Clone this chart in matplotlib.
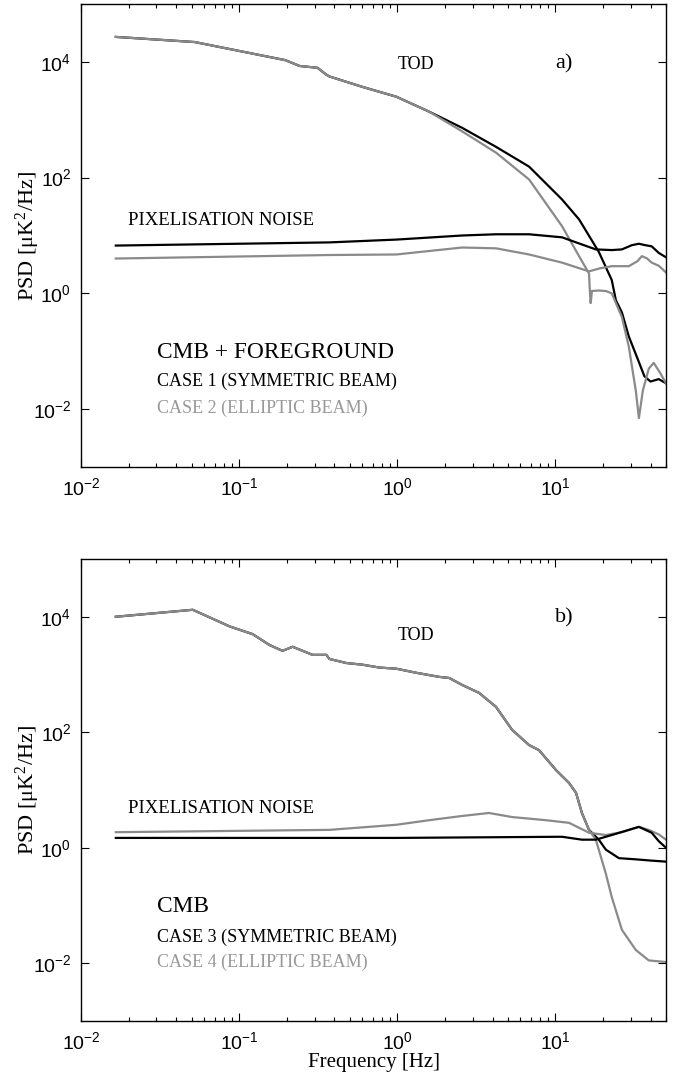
import numpy as np
import matplotlib
matplotlib.use("Agg")
import matplotlib.pyplot as plt
from matplotlib.ticker import NullLocator, LogLocator

plt.rcParams['font.family'] = ['Liberation Sans', 'DejaVu Sans']
plt.rcParams['mathtext.fontset'] = 'custom'
plt.rcParams['mathtext.rm'] = 'Liberation Sans'
plt.rcParams['mathtext.it'] = 'Liberation Sans:italic'

# === Panel a) CMB + foreground ===
# TOD, common part (both cases overlap at low frequency)
f_tod_a = [0.0166, 0.0524, 0.196, 0.241, 0.313, 0.356, 0.372, 0.601, 0.986, 1.59]
p_tod_a = [27000, 22000, 10700, 8500, 7900, 6000, 5600, 3700, 2500, 1380]

f_tod_a1 = [2.57, 4.21, 6.81, 11.0, 14.1, 18.8, 22.7, 24.1, 26.3, 29.1, 33.7, 36.5, 39.9, 45.0, 50.0]
p_tod_a1 = [725, 340, 155, 42, 19, 5.2, 1.7, 0.76, 0.47, 0.18, 0.065, 0.037, 0.030, 0.033, 0.028]

f_tod_a2 = [2.57, 4.21, 6.81, 11.0, 14.1, 16.3, 16.5, 16.7, 17.0, 18.8, 20.8, 22.7, 26.3, 29.1,
            32.2, 33.7, 35.7, 38.9, 41.8, 45.5, 50.0]
p_tod_a2 = [630, 270, 93, 14.5, 4.4, 2.2, 1.1, 0.68, 1.1, 1.12, 1.1, 1.0, 0.39, 0.12,
            0.021, 0.007, 0.021, 0.05, 0.063, 0.044, 0.028]

# pixelisation noise
f_pix_a1 = [0.0166, 0.372, 0.986, 2.57, 4.21, 6.81, 11.0, 14.7, 18.0, 22.7, 26.3, 30.4, 33.7, 37.0, 40.6, 45.0, 50.0]
p_pix_a1 = [6.7, 7.6, 8.5, 10.0, 10.5, 10.5, 9.3, 7.0, 5.75, 5.6, 5.75, 6.8, 7.2, 6.8, 6.5, 5.0, 4.2]

f_pix_a2 = [0.0166, 0.372, 0.986, 2.57, 4.21, 6.81, 11.0, 16.3, 19.0, 22.7, 29.1, 33.0, 35.2, 38.0, 40.6, 45.0, 50.0]
p_pix_a2 = [4.0, 4.6, 4.7, 6.2, 6.0, 4.7, 3.4, 2.4, 2.7, 2.95, 2.95, 3.6, 4.4, 4.0, 3.4, 3.0, 2.3]

# === Panel b) CMB only ===
f_tod_b = [0.0166, 0.0509, 0.0871, 0.1217, 0.1556, 0.188, 0.218, 0.291, 0.356, 0.372, 0.476,
           0.601, 0.769, 0.986, 1.32, 1.84, 2.13, 2.57, 3.29, 4.21, 5.32, 6.81, 7.87, 10.1,
           12.2, 13.5, 14.7, 16.3]
p_tod_b = [10000, 13200, 6800, 5000, 3240, 2570, 3020, 2190, 2190, 1860, 1580,
           1480, 1320, 1260, 1070, 910, 870, 660, 480, 275, 110, 60, 49, 22,
           13.2, 8.9, 4.0, 2.04]

f_tod_b3 = [16.3, 18.8, 20.8, 25.2, 32.2, 40.0, 50.0]
p_tod_b3 = [2.04, 1.38, 0.93, 0.66, 0.63, 0.60, 0.575]

f_tod_b4 = [16.3, 18.0, 20.8, 22.7, 26.3, 32.2, 38.9, 50.0]
p_tod_b4 = [2.04, 1.38, 0.36, 0.14, 0.038, 0.017, 0.0112, 0.0105]

f_pix_b3 = [0.0166, 0.986, 11.0, 14.7, 18.0, 22.7, 29.1, 33.7, 40.6, 45.0, 50.0]
p_pix_b3 = [1.48, 1.48, 1.55, 1.38, 1.38, 1.66, 2.04, 2.3, 1.82, 1.3, 1.0]

f_pix_b4 = [0.0166, 0.372, 0.986, 1.59, 2.57, 3.80, 5.32, 8.71, 12.2, 16.3, 20.8, 26.3, 33.7, 38.9, 45.0, 50.0]
p_pix_b4 = [1.86, 2.04, 2.5, 3.0, 3.55, 4.0, 3.4, 3.0, 2.7, 1.82, 1.66, 1.86, 2.3, 2.04, 1.7, 1.38]

black = 'black'
grey = '#8a8a8a'
serif = ['Liberation Serif', 'DejaVu Serif']

fig = plt.figure(figsize=(6.75, 10.8), dpi=100)
ax_a = fig.add_axes([81 / 675, 613 / 1080, 585 / 675, 463 / 1080])
ax_b = fig.add_axes([81 / 675, 59 / 1080, 585 / 675, 462 / 1080])


def style(ax):
    ax.set_xscale('log')
    ax.set_yscale('log')
    ax.set_xlim(0.01, 50)
    ax.set_ylim(1e-3, 1e5)
    ax.set_yticks([1e-2, 1e0, 1e2, 1e4])
    ax.yaxis.set_minor_locator(NullLocator())
    ax.xaxis.set_major_locator(LogLocator(base=10))
    ax.tick_params(which='both', direction='in', top=True, right=True, labelsize=14, width=0.8)
    ax.tick_params(which='major', length=6, pad=7)
    ax.tick_params(which='minor', length=3)
    for s in ax.spines.values():
        s.set_linewidth(1.0)
    ax.set_ylabel(r'PSD [μK$\mathregular{^2}$/Hz]', family=serif, fontsize=16)
    ax.yaxis.set_label_coords(-0.066, 0.5)


# panel a
ax_a.plot(f_tod_a + f_tod_a1, p_tod_a + p_tod_a1, color=black, lw=1.6)
ax_a.plot(f_tod_a + f_tod_a2, p_tod_a + p_tod_a2, color=grey, lw=1.6)
ax_a.plot(f_pix_a2, p_pix_a2, color=grey, lw=1.6)
ax_a.plot(f_pix_a1, p_pix_a1, color=black, lw=1.6)
style(ax_a)
ax_a.text(0.573, 0.870, 'TOD', transform=ax_a.transAxes, family=serif, fontsize=13, ha='center', va='center')
ax_a.text(0.826, 0.870, 'a)', transform=ax_a.transAxes, family=serif, fontsize=16, ha='center', va='center')
ax_a.text(0.080, 0.533, 'PIXELISATION NOISE', transform=ax_a.transAxes, family=serif, fontsize=13.5, va='center')
ax_a.text(0.130, 0.248, 'CMB + FOREGROUND', transform=ax_a.transAxes, family=serif, fontsize=16.8, va='center')
ax_a.text(0.130, 0.184, 'CASE 1 (SYMMETRIC BEAM)', transform=ax_a.transAxes, family=serif, fontsize=13, va='center')
ax_a.text(0.130, 0.127, 'CASE 2 (ELLIPTIC BEAM)', transform=ax_a.transAxes, family=serif, fontsize=13, va='center', color='#999999')

# panel b
ax_b.plot(f_tod_b + f_tod_b3, p_tod_b + p_tod_b3, color=black, lw=1.6)
ax_b.plot(f_tod_b + f_tod_b4, p_tod_b + p_tod_b4, color=grey, lw=1.6)
ax_b.plot(f_pix_b4, p_pix_b4, color=grey, lw=1.6)
ax_b.plot(f_pix_b3, p_pix_b3, color=black, lw=1.6)
style(ax_b)
ax_b.set_xlabel('Frequency [Hz]', family=serif, fontsize=15, labelpad=0)
ax_b.text(0.573, 0.835, 'TOD', transform=ax_b.transAxes, family=serif, fontsize=13, ha='center', va='center')
ax_b.text(0.826, 0.872, 'b)', transform=ax_b.transAxes, family=serif, fontsize=16, ha='center', va='center')
ax_b.text(0.080, 0.461, 'PIXELISATION NOISE', transform=ax_b.transAxes, family=serif, fontsize=13.5, va='center')
ax_b.text(0.130, 0.247, 'CMB', transform=ax_b.transAxes, family=serif, fontsize=16.8, va='center')
ax_b.text(0.130, 0.182, 'CASE 3 (SYMMETRIC BEAM)', transform=ax_b.transAxes, family=serif, fontsize=13, va='center')
ax_b.text(0.130, 0.126, 'CASE 4 (ELLIPTIC BEAM)', transform=ax_b.transAxes, family=serif, fontsize=13, va='center', color='#999999')

fig.savefig('out.png', dpi=100)
